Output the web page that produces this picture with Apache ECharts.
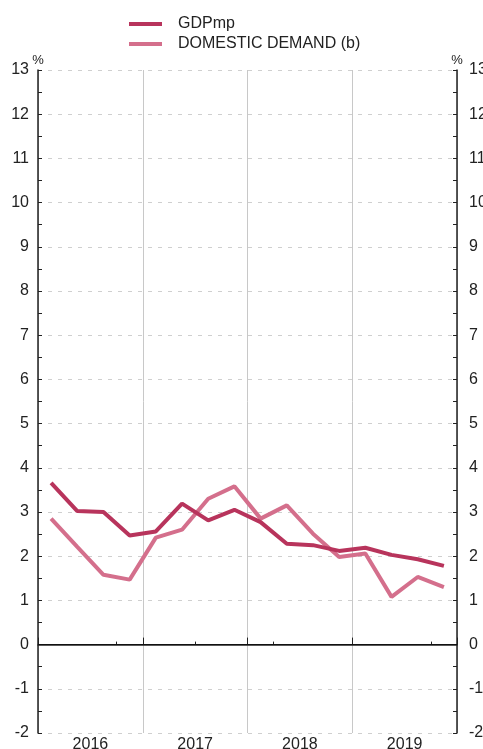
<!DOCTYPE html>
<html><head><meta charset="utf-8">
<script src="https://cdn.jsdelivr.net/npm/echarts@6/dist/echarts.min.js"></script>
<style>html,body{margin:0;padding:0;background:#fff;overflow:hidden}#c{width:483px;height:749px}</style>
</head><body><div id="c"></div>
<script>
const quarters = ['2016Q1','2016Q2','2016Q3','2016Q4','2017Q1','2017Q2','2017Q3','2017Q4','2018Q1','2018Q2','2018Q3','2018Q4','2019Q1','2019Q2','2019Q3','2019Q4'];
const years = ['2016','2017','2018','2019'];
const gdp = [3.66,3.02,3.00,2.47,2.56,3.19,2.81,3.05,2.77,2.28,2.25,2.12,2.19,2.03,1.93,1.78];
const domestic = [2.85,2.21,1.58,1.47,2.42,2.60,3.30,3.58,2.85,3.15,2.51,1.98,2.06,1.08,1.53,1.30];
const seriesNames = ['GDPmp','DOMESTIC DEMAND (b)'];
const yMin = -2, yMax = 13;

const font = 'Liberation Sans, Arial, Helvetica, sans-serif';
const chart = echarts.init(document.getElementById('c'), null, {renderer:'canvas'});
const yAxisBase = (pos) => ({
  type:'value', position:pos, min:yMin, max:yMax, interval:1,
  name:'%', nameLocation:'end', nameGap:3, nameMoveOverlap:false,
  nameTextStyle:{fontSize:13, color:'#222', fontFamily:font, align:'center', verticalAlign:'bottom'},
  axisLine:{show:true, lineStyle:{color:'#222', width:1.5}},
  axisTick:{show:true, inside:true, length:4, lineStyle:{color:'#222'}},
  minorTick:{show:true, splitNumber:2, length:4, lineStyle:{color:'#222'}},
  axisLabel:{fontSize:16, color:'#222', fontFamily:font, margin:pos==='left'?9:12},
  splitLine:{show:pos==='left', lineStyle:{color:'#cfcfcf', type:[4,6], width:1}}
});
chart.setOption({
  animation:false,
  backgroundColor:'#fff',
  legend:{
    left:124, top:11, orient:'vertical', itemGap:4,
    itemWidth:33, itemHeight:4, icon:'rect',
    textStyle:{fontSize:16, color:'#222', fontFamily:font, padding:[0,0,0,11]},
    data:seriesNames
  },
  grid:{left:38, right:26, top:70, bottom:16, containLabel:false, outerBoundsMode:'none'},
  xAxis:[
    {type:'category', data:quarters, boundaryGap:true, position:'bottom',
     axisLine:{show:true, lineStyle:{color:'#222', width:1.5}},
     axisTick:{show:true, inside:true, length:3, lineStyle:{color:'#222'}},
     axisLabel:{show:false}, splitLine:{show:false}},
    {type:'category', data:years, boundaryGap:true, position:'bottom',
     axisLine:{show:false},
     axisTick:{show:true, inside:true, length:7, lineStyle:{color:'#222'}},
     axisLabel:{show:true, fontSize:16, color:'#222', fontFamily:font, margin:4},
     splitLine:{show:true, lineStyle:{color:'#c8c8c8', width:1, type:'solid'}}}
  ],
  yAxis:[yAxisBase('left'), yAxisBase('right')],
  series:[
    {name:seriesNames[0], type:'line', data:gdp, xAxisIndex:0, yAxisIndex:0,
     symbol:'none', lineStyle:{color:'#b8345c', width:4}, itemStyle:{color:'#b8345c'}, z:4,
     markLine:{silent:true, symbol:'none', label:{show:false},
       lineStyle:{color:'#111', width:1, type:'solid'}, data:[{yAxis:0}]}},
    {name:seriesNames[1], type:'line', data:domestic, xAxisIndex:0, yAxisIndex:0,
     symbol:'none', lineStyle:{color:'#d46f8c', width:4}, itemStyle:{color:'#d46f8c'}, z:3}
  ]
});
</script></body></html>
